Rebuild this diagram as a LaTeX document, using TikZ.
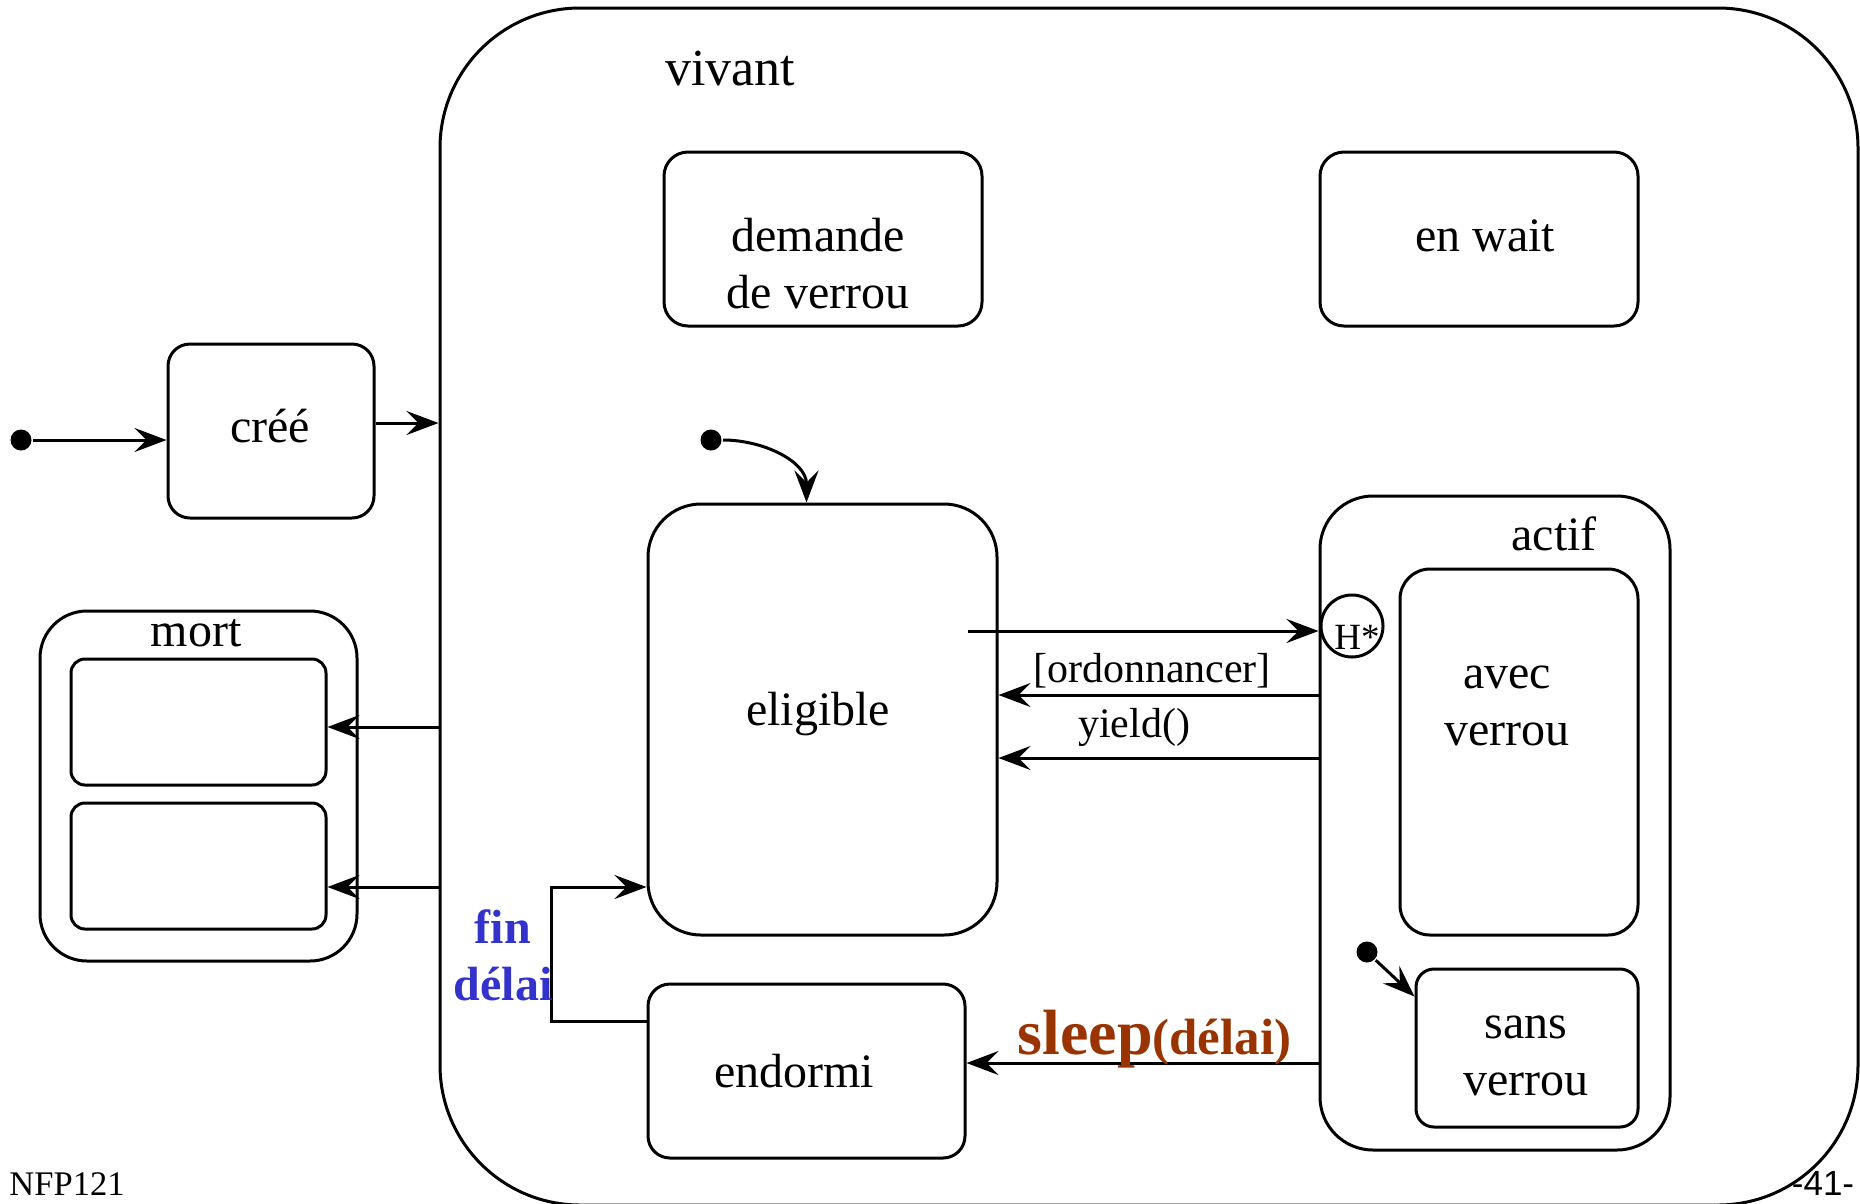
\documentclass[tikz,border=0pt]{standalone}
\usepackage{fontspec}
\setmainfont{Liberation Serif}
\newfontfamily\pagenumfont{Liberation Sans}
\usetikzlibrary{arrows.meta,calc}
\definecolor{delayblue}{RGB}{51,51,204}
\definecolor{sleepbrown}{RGB}{153,51,0}

\begin{document}
\begin{tikzpicture}[x=1pt, y=1pt, line width=3pt,
  stbox/.style={draw, rectangle, inner sep=0pt, rounded corners=#1},
  stbox/.default=24pt,
  lbl/.style={anchor=base, inner sep=0pt, align=center, font=\fontsize{48}{57}\selectfont},
  guard/.style={anchor=base, inner sep=0pt, font=\fontsize{42}{50}\selectfont},
  arr/.style={-{Stealth[length=32pt, width=24pt, inset=12pt]}},
  startdot/.style={circle, fill, draw=none, inner sep=0pt, minimum size=21pt}
]
\useasboundingbox (0,0) rectangle (1860,-1203);

% composite state "vivant"
\node[stbox=140pt, minimum width=1418pt, minimum height=1197pt] (viv) at (1149,-606.5) {};
\node[lbl, font=\fontsize{52}{60}\selectfont] (vivlbl) at (730,-85) {vivant};

% simple states inside "vivant" (two-line labels sit on their last baseline)
\node[stbox, minimum width=318pt, minimum height=174pt] (dem) at (823,-239) {};
\node[lbl] (demlbl) at (818,-308) {demande\\de verrou};
\node[stbox, minimum width=318pt, minimum height=174pt] (wait) at (1479,-239) {};
\node[lbl] (waitlbl) at (1485,-251) {en wait};
\node[stbox=53pt, minimum width=349pt, minimum height=431pt] (eli) at (822.5,-719.5) {};
\node[lbl] (elilbl) at (818,-725) {eligible};
\node[stbox=22pt, minimum width=317pt, minimum height=174pt] (endo) at (806.5,-1071) {};
\node[lbl] (endolbl) at (794,-1087) {endormi};

% composite state "actif" with its history pseudo-state
\node[stbox=53pt, minimum width=350pt, minimum height=654pt] (act) at (1495,-823) {};
\node[lbl] (actlbl) at (1554,-550) {actif};
\node[stbox=30pt, minimum width=238pt, minimum height=366pt] (avec) at (1519,-752) {};
\node[lbl] (aveclbl) at (1507,-745) {avec\\verrou};
\node[stbox=18pt, minimum width=222pt, minimum height=158pt] (sans) at (1527,-1048) {};
\node[lbl] (sanslbl) at (1526,-1095) {sans\\verrou};
\node[draw, circle, inner sep=0pt, minimum size=62pt] (hist) at (1352,-626) {};
\node[anchor=base, inner sep=0pt, font=\fontsize{37}{40}\selectfont] (histlbl) at (1357,-649) {H*};

% states outside "vivant"
\node[stbox=22pt, minimum width=206pt, minimum height=174pt] (cree) at (271,-431) {};
\node[lbl] (creelbl) at (270,-442) {créé};
\node[stbox=47pt, minimum width=317pt, minimum height=350pt] (mort) at (198.5,-786) {};
\node[lbl] (mortlbl) at (196,-646) {mort};
\node[stbox=14pt, minimum width=255pt, minimum height=126pt] (mort1) at (198.5,-722) {};
\node[stbox=14pt, minimum width=255pt, minimum height=126pt] (mort2) at (198.5,-866) {};

% initial pseudo-states
\node[startdot] (init) at (21,-440) {};
\node[startdot] (initeli) at (711,-440) {};
\node[startdot] (initsans) at (1367,-952) {};

% transitions
\draw[arr] (init) -- (init -| cree.west);
\draw[arr] (cree.east |- 0,-423) -- (viv.west |- 0,-423);
\draw[arr] (viv.west |- 0,-727) -- (mort1.east |- 0,-727);
\draw[arr] (viv.west |- 0,-887) -- (mort2.east |- 0,-887);
\draw[arr] (initeli) to[out=0, in=90] ($(eli.north)+(-16,0)$);
\coordinate (histsrc) at (968,-631);
\draw[arr] (histsrc) -- (histsrc -| act.west);
\draw[arr] (act.west |- 0,-695) -- (eli.east |- 0,-695);
\draw[arr] (act.west |- 0,-758) -- (eli.east |- 0,-758);
\draw[arr] (act.west |- 0,-1063) -- (endo.east |- 0,-1063);
\coordinate (bend) at (551,-1021);
\draw[arr] (endo.west |- bend) -- (bend) |- (eli.west |- 0,-887);
\draw[arr] (initsans) -- ($(sans.north west)+(0,-29)$);

% transition labels
\node[guard] (ordlbl) at (1152,-682) {[ordonnancer]};
\node[guard] (yieldlbl) at (1134,-737) {yield()};
\node[anchor=base west, inner sep=0pt, text=sleepbrown, font=\bfseries] (sleeplbl) at (1016,-1054)
  {{\fontsize{64}{70}\selectfont sleep}{\fontsize{51}{60}\selectfont(délai)}};
\node[lbl, text=delayblue, font=\bfseries\fontsize{48}{57}\selectfont] (finlbl) at (503,-1000) {fin\\délai};

% page footer
\node[anchor=base, inner sep=0pt, font=\fontsize{34.5}{40}\selectfont] (course) at (67,-1195) {NFP121};
\node[anchor=base, inner sep=0pt, font=\pagenumfont\fontsize{35}{40}\selectfont] (pagenum) at (1823,-1195) {-41-};
\end{tikzpicture}
\end{document}
